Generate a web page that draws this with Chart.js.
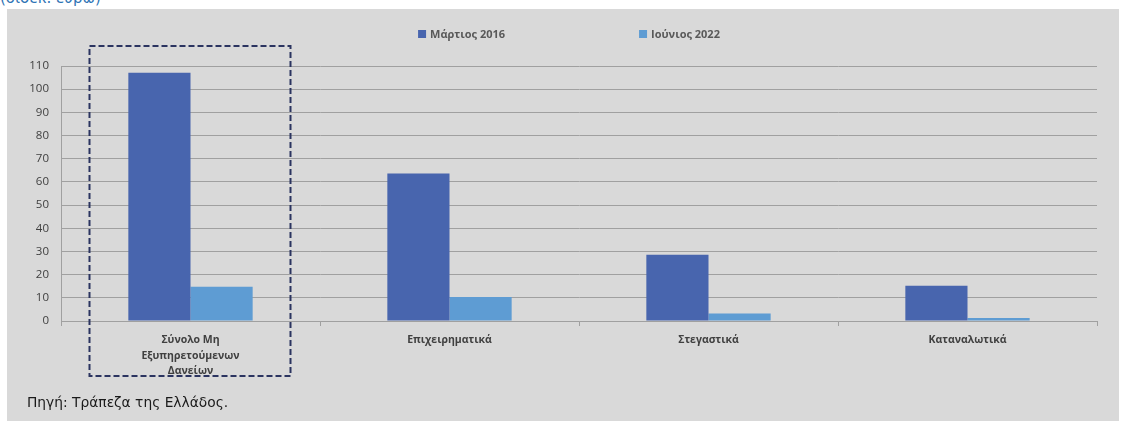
<!DOCTYPE html>
<html>
<head>
<meta charset="utf-8">
<script src="https://cdn.jsdelivr.net/npm/chart.js@4/dist/chart.umd.min.js"></script>
<style>
  html, body { margin: 0; padding: 0; background: #ffffff; }
  body { width: 1129px; height: 421px; position: relative; overflow: hidden; }
  #unit { position: absolute; left: 0; top: -11px; font: 15px "DejaVu Sans", sans-serif; color: #2f74b5; white-space: nowrap; }
  #panel { position: absolute; left: 7px; top: 9px; width: 1112px; height: 412px; background: #d9d9d9; }
  #source { position: absolute; left: 27px; top: 394px; font: 13.8px "DejaVu Sans", sans-serif; color: #1a1a1a; white-space: nowrap; }
</style>
</head>
<body>
<div id="unit">(δισεκ. ευρώ)</div>
<div id="panel"><canvas id="chart" width="1112" height="412"></canvas></div>
<div id="source">Πηγή: Τράπεζα της Ελλάδος.</div>
<script>
// loan categories and stock of non-performing loans (bn euro)
const categories = [
    ['Σύνολο Μη', 'Εξυπηρετούμενων', 'Δανείων'],
    'Επιχειρηματικά',
    'Στεγαστικά',
    'Καταναλωτικά'
];
const march2016 = [107.1, 63.6, 28.6, 15.2];
const june2022 = [14.8, 10.4, 3.2, 1.3];
const seriesNames = ['Μάρτιος 2016', 'Ιούνιος 2022'];
const yTicks = { min: 0, max: 110, step: 10 };

const gridColor = '#a0a0a0';
const textColor = '#404040';

// legend drawn by hand so the two entries can sit far apart
const wideLegend = {
    id: 'wideLegend',
    afterDraw(chart) {
        const ctx = chart.ctx;
        const gap = 134;
        ctx.save();
        ctx.font = 'bold 11px "Open Sans", sans-serif';
        ctx.textBaseline = 'middle';
        const items = chart.data.datasets.map(ds => ({
            label: ds.label,
            color: ds.backgroundColor,
            w: 8 + 4 + ctx.measureText(ds.label).width
        }));
        const total = items.reduce((s, it) => s + it.w, 0) + gap * (items.length - 1);
        let x = chart.width / 2 - total / 2 + 6;
        const y = 25;
        items.forEach(it => {
            ctx.fillStyle = it.color;
            ctx.fillRect(x, y - 4, 8, 8);
            ctx.fillStyle = '#595959';
            ctx.fillText(it.label, x + 12, y + 0.5);
            x += it.w + gap;
        });
        ctx.restore();
    }
};

// dashed frame around the total NPL group
const highlightBox = {
    id: 'highlightBox',
    afterDraw(chart) {
        const ctx = chart.ctx;
        const xs = chart.scales.x;
        const cx = xs.getPixelForValue(0);
        const area = chart.chartArea;
        ctx.save();
        ctx.strokeStyle = '#2b3460';
        ctx.lineWidth = 2;
        ctx.setLineDash([6, 3]);
        ctx.strokeRect(cx - 101, area.top - 20, 201, area.bottom - area.top + 75);
        ctx.restore();
    }
};

new Chart(document.getElementById('chart'), {
    type: 'bar',
    data: {
        labels: categories,
        datasets: [
            { label: seriesNames[0], data: march2016, backgroundColor: '#4865ae' },
            { label: seriesNames[1], data: june2022, backgroundColor: '#5e9cd3' }
        ]
    },
    options: {
        responsive: false,
        animation: false,
        events: [],
        layout: { padding: { top: 57, right: 22, bottom: 0, left: 0 } },
        categoryPercentage: 0.48,
        barPercentage: 1,
        plugins: {
            legend: { display: false },
            tooltip: { enabled: false }
        },
        scales: {
            x: {
                afterFit: s => { s.height = 100; },
                border: { color: gridColor },
                grid: { drawOnChartArea: false, drawTicks: true, tickLength: 5, color: gridColor, offset: true },
                ticks: {
                    color: textColor,
                    font: { family: '"Open Sans", sans-serif', size: 10.5, weight: 'bold', lineHeight: 1.5 },
                    padding: 6,
                    maxRotation: 0,
                    autoSkip: false
                }
            },
            y: {
                min: yTicks.min,
                max: yTicks.max,
                afterFit: s => { s.width = 54; },
                border: { display: true, color: gridColor },
                grid: { color: gridColor, drawTicks: false },
                ticks: {
                    stepSize: yTicks.step,
                    color: textColor,
                    padding: 12,
                    font: { family: '"Open Sans", sans-serif', size: 11.5 }
                }
            }
        }
    },
    plugins: [wideLegend, highlightBox]
});
</script>
</body>
</html>
